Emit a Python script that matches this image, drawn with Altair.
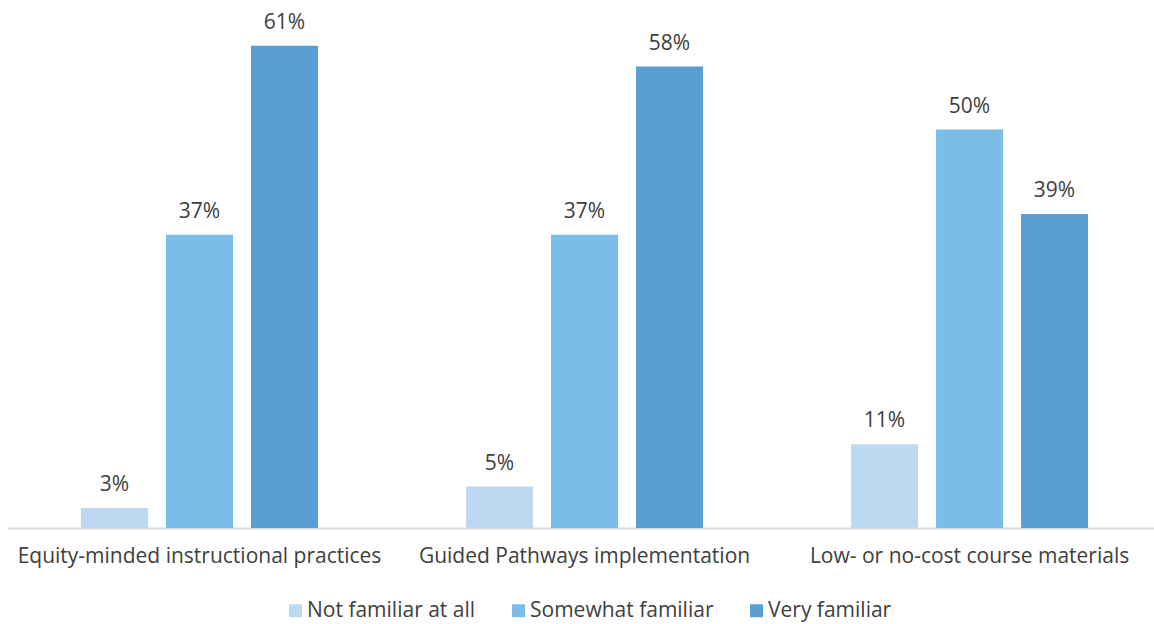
import altair as alt
import pandas as pd

categories = ["Equity-minded instructional practices", "Guided Pathways implementation", "Low- or no-cost course materials"]
series = ["Not familiar at all", "Somewhat familiar", "Very familiar"]
not_familiar = [0.025, 0.052, 0.105]
somewhat = [0.368, 0.368, 0.500]
very = [0.605, 0.579, 0.394]
not_familiar_labels = ["3%", "5%", "11%"]
somewhat_labels = ["37%", "37%", "50%"]
very_labels = ["61%", "58%", "39%"]
colors = ["#BDD9F1", "#7BBDE7", "#599FD3"]

rows = []
for i, c in enumerate(categories):
    for s, vals, labs in zip(series, [not_familiar, somewhat, very],
                             [not_familiar_labels, somewhat_labels, very_labels]):
        rows.append({"cat": c, "series": s, "value": vals[i], "label": labs[i]})
df = pd.DataFrame(rows)

FONT = "Open Sans"
TXT = "#404040"

x = alt.X("cat:N", sort=categories, title=None,
          scale=alt.Scale(paddingInner=0.3377, paddingOuter=0.1584, align=0.533),
          axis=alt.Axis(labelAngle=0, labelFontSize=21, labelColor=TXT, labelFont=FONT,
                        labelPadding=17, ticks=False, domainColor="#D9D9D9", domainWidth=2,
                        labelLimit=450))
xo = alt.XOffset("series:N", sort=series,
                 scale=alt.Scale(paddingInner=0.212, paddingOuter=0.106))
y = alt.Y("value:Q", scale=alt.Scale(domain=[0, 0.65], nice=False), axis=None)

bars = alt.Chart(df).mark_bar().encode(
    x=x, xOffset=xo, y=y,
    color=alt.Color("series:N", sort=series,
                    scale=alt.Scale(domain=series, range=colors),
                    legend=alt.Legend(title=None, orient="none", direction="horizontal",
                                      legendX=278, legendY=590,
                                      symbolType="square", symbolSize=169, symbolStrokeWidth=0,
                                      labelOffset=1,
                                      labelFontSize=21, labelColor=TXT, labelFont=FONT,
                                      columnPadding=32, labelLimit=300))
)

text = alt.Chart(df).mark_text(dy=-17, baseline="alphabetic", fontSize=21, color=TXT, font=FONT).encode(
    x=x, xOffset=xo, y=y,
    text="label:N"
)

chart = (bars + text).properties(
    width=1147, height=518,
    padding={"left": 7, "top": 10, "right": 0, "bottom": 4}
).configure(font=FONT).configure_view(stroke=None, strokeWidth=0)

chart.save("out.html", embed_options={"renderer": "svg", "actions": False})
